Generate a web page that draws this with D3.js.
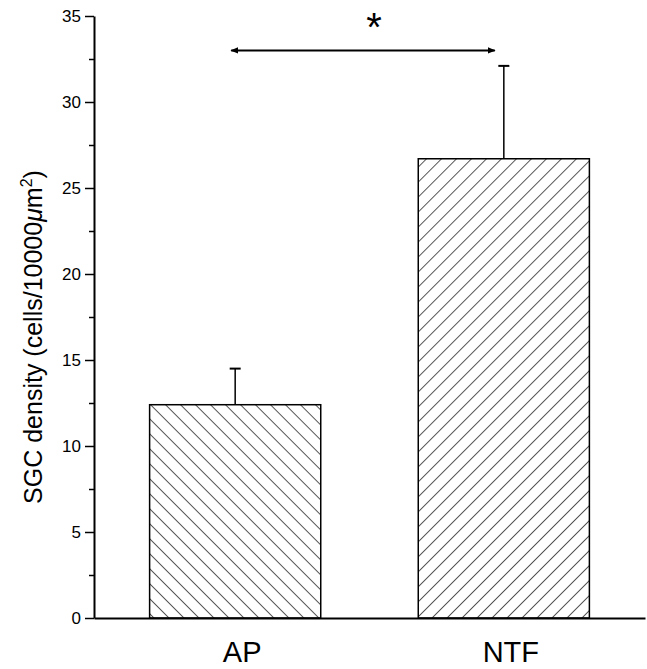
<!DOCTYPE html>
<html>
<head>
<meta charset="utf-8">
<script src="https://cdn.jsdelivr.net/npm/d3@7"></script>
<style>
  body { margin: 0; background: #fff; }
  text { font-family: "Liberation Sans", Arial, sans-serif; fill: #000; }
</style>
</head>
<body>
<div id="chart"></div>
<script>
// Data
const groups = ["AP", "NTF"];
const density = [12.4, 26.7];
const errors = [2.1, 5.4];
const yTicks = [0, 5, 10, 15, 20, 25, 30, 35];
const yMinorTicks = [2.5, 7.5, 12.5, 17.5, 22.5, 27.5, 32.5];
const hatchAngle = [-45, 45];
const sigLevel = 33;

const width = 647, height = 669;
const margin = { top: 16, right: 2, bottom: 51, left: 94 };

const svg = d3.select("#chart")
    .append("svg")
    .attr("width", width)
    .attr("height", height);

// Scales
const x = d3.scaleBand().domain(groups)
    .range([margin.left, width - margin.right])
    .paddingInner(0.363).paddingOuter(0.207);
const y = d3.scaleLinear().domain([0, 35]).range([height - margin.bottom, margin.top]);

// Hatch patterns
const defs = svg.append("defs");
groups.forEach((g, i) => {
    const p = defs.append("pattern")
        .attr("id", "hatch" + i)
        .attr("patternUnits", "userSpaceOnUse")
        .attr("width", 10.6).attr("height", 10.6)
        .attr("patternTransform", `rotate(${hatchAngle[i]})`);
    p.append("line")
        .attr("x1", 0).attr("y1", 0).attr("x2", 0).attr("y2", 10.6)
        .attr("stroke", "#000").attr("stroke-width", 1.3);
});
defs.append("marker")
    .attr("id", "arrow")
    .attr("viewBox", "0 0 10 10")
    .attr("refX", 9).attr("refY", 5)
    .attr("markerWidth", 4).attr("markerHeight", 4)
    .attr("markerUnits", "strokeWidth")
    .attr("orient", "auto-start-reverse")
    .append("path").attr("d", "M0,1L10,5L0,9Z").attr("fill", "#000");

const data = groups.map((g, i) => ({ g, v: density[i], e: errors[i], i }));

// Bars
svg.selectAll(".bar")
    .data(data)
    .enter().append("rect")
    .attr("class", "bar")
    .attr("x", d => x(d.g))
    .attr("y", d => y(d.v))
    .attr("width", x.bandwidth())
    .attr("height", d => y(0) - y(d.v))
    .attr("fill", d => `url(#hatch${d.i})`)
    .attr("stroke", "#000")
    .attr("stroke-width", 1.5);

// Error bars
const cx = d => x(d.g) + x.bandwidth() / 2;
svg.selectAll(".err")
    .data(data)
    .enter().append("line")
    .attr("x1", cx).attr("x2", cx)
    .attr("y1", d => y(d.v)).attr("y2", d => y(d.v + d.e))
    .attr("stroke", "#000").attr("stroke-width", 1.5);
svg.selectAll(".cap")
    .data(data)
    .enter().append("line")
    .attr("x1", d => cx(d) - 5.5).attr("x2", d => cx(d) + 5.5)
    .attr("y1", d => y(d.v + d.e)).attr("y2", d => y(d.v + d.e))
    .attr("stroke", "#000").attr("stroke-width", 2);

// Y axis
const yAxis = svg.append("g")
    .attr("transform", `translate(${margin.left},0)`)
    .call(d3.axisLeft(y).tickValues(yTicks).tickSize(9).tickSizeOuter(0).tickPadding(4));
yAxis.select(".domain").attr("stroke-width", 2);
yAxis.selectAll(".tick line").attr("stroke-width", 1.5);
yAxis.selectAll(".tick text").style("font-size", "17px");
svg.append("g")
    .attr("transform", `translate(${margin.left},0)`)
    .call(d3.axisLeft(y).tickValues(yMinorTicks).tickSize(5).tickFormat(""))
    .call(g => g.select(".domain").remove())
    .selectAll(".tick line").attr("stroke-width", 1.5);

// X axis
const xAxis = svg.append("g")
    .attr("transform", `translate(0,${y(0)})`)
    .call(d3.axisBottom(x).tickSize(0).tickSizeOuter(0).tickPadding(23));
xAxis.select(".domain").attr("stroke-width", 2);
xAxis.selectAll(".tick text").style("font-size", "29px").attr("dx", 7);

// Y title
const title = svg.append("text")
    .attr("transform", `translate(42,${(y(0) + y(35)) / 2 + 20}) rotate(-90)`)
    .attr("text-anchor", "middle")
    .style("font-size", "25px");
title.append("tspan").text("SGC density (cells/10000");
title.append("tspan").style("font-style", "italic").text("μ");
title.append("tspan").text("m");
title.append("tspan").attr("dy", -10).style("font-size", "16px").text("2");
title.append("tspan").attr("dy", 10).text(")");

// Significance
const x1 = cx(data[0]) - 4, x2 = cx(data[1]) - 9;
svg.append("line")
    .attr("x1", x1).attr("x2", x2)
    .attr("y1", y(sigLevel)).attr("y2", y(sigLevel))
    .attr("stroke", "#000").attr("stroke-width", 2)
    .attr("marker-start", "url(#arrow)")
    .attr("marker-end", "url(#arrow)");
svg.append("text")
    .attr("x", (x1 + x2) / 2 + 11)
    .attr("y", y(sigLevel) - 9)
    .attr("text-anchor", "middle")
    .style("font-size", "40px")
    .text("*");
</script>
</body>
</html>
